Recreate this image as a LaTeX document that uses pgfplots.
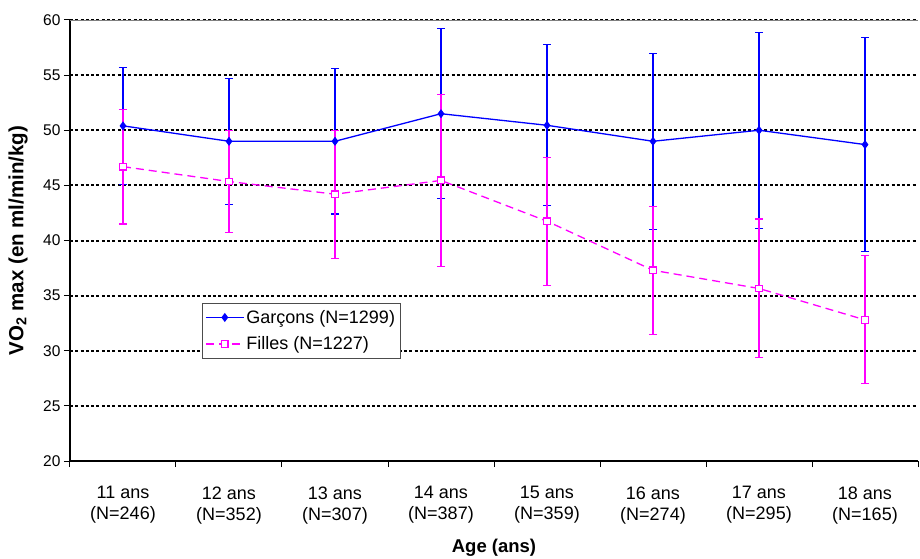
\documentclass[border=0pt]{standalone}
\usepackage{pgfplots}
\pgfplotsset{compat=1.18}
\usepackage{pgfplotstable}
\usepackage{fontspec}
\setmainfont{Liberation Sans}
\definecolor{gblue}{RGB}{0,0,255}
\definecolor{fmag}{RGB}{255,0,255}
\pgfplotstableread{
x y e
0 50.4 5.3
1 49.0 5.7
2 49.0 6.6
3 51.5 7.7
4 50.45 7.3
5 49.0 8.0
6 50.0 8.9
7 48.7 9.7
}\garcons
\pgfplotstableread{
x y e
0 46.7 5.2
1 45.35 4.65
2 44.2 5.8
3 45.45 7.8
4 41.75 5.8
5 37.3 5.8
6 35.65 6.3
7 32.8 5.8
}\filles
\begin{document}
\begin{tikzpicture}
\begin{axis}[
  scale only axis, width=848bp, height=441bp,
  xmin=-0.5, xmax=7.5, ymin=20, ymax=60,
  axis x line*=bottom, axis y line*=left,
  axis line style={-, line width=1.3bp, black},
  ytick={20,25,...,60},
  ymajorgrids,
  grid style={black, line width=2bp, dash pattern=on 3bp off 2.3bp},
  xtick={0,...,7},
  xticklabels={{11 ans\\(N=246)},{12 ans\\(N=352)},{13 ans\\(N=307)},{14 ans\\(N=387)},{15 ans\\(N=359)},{16 ans\\(N=274)},{17 ans\\(N=295)},{18 ans\\(N=165)}},
  major x tick style={draw=none},
  minor xtick={-0.5,0.5,1.5,2.5,3.5,4.5,5.5,6.5,7.5},
  minor x tick style={black, line width=1bp},
  y tick style={black, line width=1bp},
  minor tick length=6bp,
  major tick length=6bp,
  tick align=outside,
  /pgf/number format/assume math mode=true,
  yticklabel style={font=\fontsize{15.5bp}{18bp}\selectfont},
  xticklabel style={align=center, font=\fontsize{18bp}{21bp}\selectfont, yshift=-16bp},
  ylabel={VO\textsubscript{2} max (en ml/min/kg)},
  ylabel style={font=\fontsize{20.5bp}{22bp}\selectfont\bfseries, at={(axis description cs:-0.0613,0.5)}, anchor=center},
  xlabel={Age (ans)},
  xlabel style={font=\fontsize{18.5bp}{22bp}\selectfont\bfseries, at={(axis description cs:0.5,-0.1973)}, anchor=center},
  legend style={at={(axis cs:0.745,34.33)}, anchor=north west, draw=black!70, font=\fontsize{18bp}{20bp}\selectfont, inner xsep=3bp, inner ysep=5bp, row sep=8bp, cells={anchor=west}},
  legend image code/.code={\draw[mark repeat=2,mark phase=2] plot coordinates {(0bp,0bp) (19bp,0bp) (38bp,0bp)};},
]
\draw[gray, line width=0.6bp] (rel axis cs:0,1) -- (rel axis cs:1,1);
\addplot[gblue, line width=1.3bp, mark=diamond*, mark size=3.5bp, mark options={solid, fill=gblue},
  error bars/.cd, y dir=both, y explicit, error mark=|,
  error bar style={gblue, line width=1.1bp, solid},
  error mark options={gblue, mark size=4bp, line width=1.1bp, solid}]
  table[x=x, y=y, y error=e] {\garcons};
\addlegendentry{Garçons (N=1299)}
\addplot[fmag, line width=1.3bp, dash pattern=on 8bp off 5bp, mark=square*, mark size=3.3bp, mark options={solid, fill=white},
  error bars/.cd, y dir=both, y explicit, error mark=|,
  error bar style={fmag, line width=1.1bp, solid},
  error mark options={fmag, mark size=4bp, line width=1.1bp, solid}]
  table[x=x, y=y, y error=e] {\filles};
\addlegendentry{Filles (N=1227)}
\end{axis}
\pgfresetboundingbox
\path[use as bounding box] (-70bp,-98bp) rectangle (850bp,461bp);
\end{tikzpicture}
\end{document}
